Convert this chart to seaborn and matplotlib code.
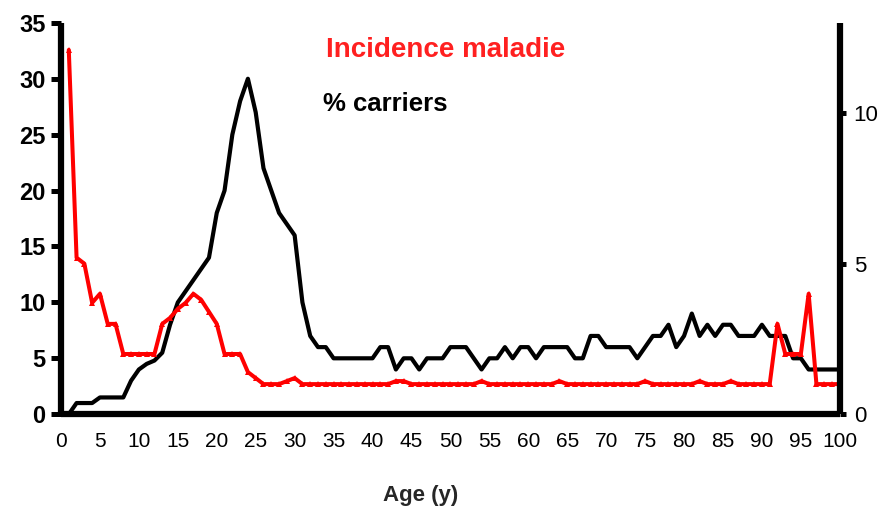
import matplotlib
matplotlib.use("Agg")
import matplotlib.pyplot as plt
import seaborn as sns

# === data ===
ages = list(range(1, 101))

# % carriers (left axis)
carriers = [0, 1, 1, 1, 1.5, 1.5, 1.5, 1.5, 3, 4,
            4.5, 4.8, 5.5, 8, 10, 11, 12, 13, 14, 18,
            20, 25, 28, 30, 27, 22, 20, 18, 17, 16,
            10, 7, 6, 6, 5, 5, 5, 5, 5, 5,
            6, 6, 4, 5, 5, 4, 5, 5, 5, 6,
            6, 6, 5, 4, 5, 5, 6, 5, 6, 6,
            5, 6, 6, 6, 6, 5, 5, 7, 7, 6,
            6, 6, 6, 5, 6, 7, 7, 8, 6, 7,
            9, 7, 8, 7, 8, 8, 7, 7, 7, 8,
            7, 7, 7, 5, 5, 4, 4, 4, 4, 4]

# incidence maladie (right axis)
incidence = [12.1, 5.2, 5.0, 3.7, 4.0, 3.0, 3.0, 2.0, 2.0, 2.0,
             2.0, 2.0, 3.0, 3.2, 3.5, 3.7, 4.0, 3.8, 3.4, 3.0,
             2.0, 2.0, 2.0, 1.4, 1.2, 1.0, 1.0, 1.0, 1.1, 1.2,
             1.0, 1.0, 1.0, 1.0, 1.0, 1.0, 1.0, 1.0, 1.0, 1.0,
             1.0, 1.0, 1.1, 1.1, 1.0, 1.0, 1.0, 1.0, 1.0, 1.0,
             1.0, 1.0, 1.0, 1.1, 1.0, 1.0, 1.0, 1.0, 1.0, 1.0,
             1.0, 1.0, 1.0, 1.1, 1.0, 1.0, 1.0, 1.0, 1.0, 1.0,
             1.0, 1.0, 1.0, 1.0, 1.1, 1.0, 1.0, 1.0, 1.0, 1.0,
             1.0, 1.1, 1.0, 1.0, 1.0, 1.1, 1.0, 1.0, 1.0, 1.0,
             1.0, 3.0, 2.0, 2.0, 2.0, 4.0, 1.0, 1.0, 1.0, 1.0]

x_ticks = list(range(0, 101, 5))
left_ticks = [0, 5, 10, 15, 20, 25, 30, 35]
right_ticks = [0, 5, 10]

# === style ===
sns.set_style("white")
plt.rcParams['font.family'] = ['Liberation Sans', 'DejaVu Sans']

fig = plt.figure(figsize=(8.84, 5.07), dpi=100)
ax = fig.add_axes([0.069, 0.183, 0.881, 0.772])
ax2 = ax.twinx()

sns.lineplot(x=ages, y=carriers, ax=ax, color="black", linewidth=3.0)
sns.lineplot(x=ages, y=incidence, ax=ax2, color="#ff0000", linewidth=2.9,
             marker="^", markersize=4.5, markeredgewidth=0)

ax.set_xlim(0, 100)
ax.set_ylim(0, 35)
ax2.set_ylim(0, 13)
ax.set_xticks(x_ticks)
ax.set_yticks(left_ticks)
ax2.set_yticks(right_ticks)

for a in (ax, ax2):
    a.spines['top'].set_visible(False)
    for s in ('left', 'right', 'bottom'):
        a.spines[s].set_linewidth(4.5)
        a.spines[s].set_color("black")
        a.spines[s].set_capstyle('butt')
ax.spines['right'].set_visible(False)
ax2.spines['left'].set_visible(False)
ax2.spines['bottom'].set_visible(False)

ax.tick_params(axis='x', direction='out', length=8, width=3.6, colors='black',
               labelsize=15, pad=5)
ax.tick_params(axis='y', direction='out', length=7, width=3.6, colors='black',
               labelsize=17, pad=4)
for lab in ax.get_yticklabels():
    lab.set_fontweight('bold')
ax2.tick_params(axis='y', direction='out', length=4, width=3.6, colors='black',
                labelsize=16, pad=6)
ax2.grid(False)
ax.grid(False)

ax.set_xlabel("Age (y)", fontsize=16, fontweight='bold')
ax.xaxis.set_label_coords(0.462, -0.18)
ax.set_ylabel("")
ax2.set_ylabel("")

ax.text(34, 32.6, "Incidence maladie", color="#ff2020", fontsize=20,
        fontweight='bold', va='center')
ax.text(33.7, 27.7, "% carriers", color="black", fontsize=18.5,
        fontweight='bold', va='center')

fig.savefig("out.png", dpi=100)
